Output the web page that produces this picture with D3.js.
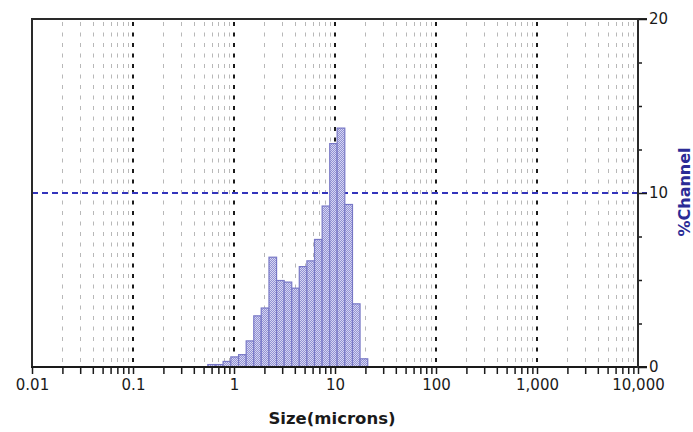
<!DOCTYPE html>
<html>
<head>
<meta charset="utf-8">
<script src="https://cdn.jsdelivr.net/npm/d3@7"></script>
<style>
  html, body { margin: 0; padding: 0; background: #ffffff; }
  svg { display: block; }
  text { font-family: "DejaVu Sans", sans-serif; }
</style>
</head>
<body>
<div id="chart"></div>
<script>
// ---- data ----
const binEdges = [0.55, 0.66, 0.78, 0.93, 1.11, 1.32, 1.57, 1.86, 2.22, 2.64, 3.14, 3.73, 4.43, 5.27, 6.27, 7.46, 8.87, 10.5, 12.5, 14.9, 17.7, 21.1];
const channelPct = [0.14, 0.14, 0.32, 0.58, 0.71, 1.50, 2.94, 3.39, 6.31, 4.97, 4.88, 4.53, 5.77, 6.10, 7.33, 9.25, 12.84, 13.73, 9.34, 3.63, 0.47];
const xDecades = [0.01, 0.1, 1, 10, 100, 1000, 10000];
const xDecadeLabels = ["0.01", "0.1", "1", "10", "100", "1,000", "10,000"];
const yMajorTicks = [0, 10, 20];
const yMajorLabels = ["0", "10", "20"];
const yMinorTicks = [2.5, 5, 7.5, 12.5, 15, 17.5];
const refLineValue = 10;
const xTitle = "Size(microns)";
const yTitle = "%Channel";

const W = 693, H = 432;
const plot = { left: 32, right: 638, top: 19, bottom: 367 };

const svg = d3.select("#chart").append("svg").attr("width", W).attr("height", H);

const x = d3.scaleLog().domain([0.01, 10000]).range([plot.left, plot.right]);
const y = d3.scaleLinear().domain([0, 20]).range([plot.bottom, plot.top]);

// pattern for bar fill
const defs = svg.append("defs");
const pat = defs.append("pattern").attr("id", "dots").attr("patternUnits", "userSpaceOnUse")
  .attr("width", 2).attr("height", 2);
pat.append("rect").attr("width", 2).attr("height", 2).attr("fill", "#9292d4");
pat.append("rect").attr("x", 0).attr("y", 0).attr("width", 1).attr("height", 1).attr("fill", "#d6d6f2");
pat.append("rect").attr("x", 1).attr("y", 1).attr("width", 1).attr("height", 1).attr("fill", "#d6d6f2");

// minor ticks/grid values
const minorVals = [];
xDecades.slice(0, -1).forEach(d => { for (let k = 2; k <= 9; k++) minorVals.push(d * k); });
const allTicks = xDecades.concat(minorVals).sort((a, b) => a - b);

// vertical grid
const grid = svg.append("g");
grid.selectAll("line.minor").data(minorVals).enter().append("line")
  .attr("x1", d => Math.round(x(d)) + 0.5).attr("x2", d => Math.round(x(d)) + 0.5)
  .attr("y1", plot.top + 3).attr("y2", plot.bottom)
  .attr("stroke", "#b8b8b8").attr("stroke-width", 1).attr("stroke-dasharray", "4,6.5");
grid.selectAll("line.major").data(xDecades.slice(1, -1)).enter().append("line")
  .attr("x1", d => Math.round(x(d))).attr("x2", d => Math.round(x(d)))
  .attr("y1", plot.top + 3).attr("y2", plot.bottom)
  .attr("stroke", "#1a1a1a").attr("stroke-width", 2).attr("stroke-dasharray", "4,6.5");

// reference line at 10
svg.append("line")
  .attr("x1", plot.left).attr("x2", plot.right + 9)
  .attr("y1", y(refLineValue)).attr("y2", y(refLineValue))
  .attr("stroke", "#3434bc").attr("stroke-width", 2).attr("stroke-dasharray", "6,4");

// bars
const bars = channelPct.map((v, i) => ({ x0: binEdges[i], x1: binEdges[i + 1], v }));
svg.append("g").selectAll("rect").data(bars).enter().append("rect")
  .attr("x", d => x(d.x0))
  .attr("width", d => x(d.x1) - x(d.x0))
  .attr("y", d => y(d.v))
  .attr("height", d => y(0) - y(d.v))
  .attr("fill", "url(#dots)")
  .attr("stroke", "#7878c6").attr("stroke-width", 1.2);

// frame
svg.append("line").attr("x1", plot.left).attr("x2", plot.left).attr("y1", plot.top).attr("y2", plot.bottom)
  .attr("stroke", "#2a2a2a").attr("stroke-width", 2);
svg.append("line").attr("x1", plot.left - 1).attr("x2", plot.right + 9).attr("y1", plot.top).attr("y2", plot.top)
  .attr("stroke", "#2a2a2a").attr("stroke-width", 2);

// bottom axis
const xAxis = d3.axisBottom(x).tickValues(allTicks).tickSize(7).tickPadding(5)
  .tickFormat(d => { const i = xDecades.findIndex(v => Math.abs(v - d) / d < 1e-9); return i >= 0 ? xDecadeLabels[i] : ""; });
const gx = svg.append("g").attr("transform", `translate(0,${plot.bottom})`).call(xAxis);
gx.select(".domain").remove();
gx.selectAll(".tick line").attr("stroke", "#1a1a1a").attr("stroke-width", 1.5);
gx.selectAll(".tick text").attr("font-size", 15).attr("fill", "#1a1a1a").attr("font-family", "DejaVu Sans");
svg.append("line").attr("x1", plot.left - 1).attr("x2", plot.right + 9).attr("y1", plot.bottom).attr("y2", plot.bottom)
  .attr("stroke", "#1a1a1a").attr("stroke-width", 2);

// right axis
const gyMinor = svg.append("g").attr("transform", `translate(${plot.right},0)`)
  .call(d3.axisRight(y).tickValues(yMinorTicks).tickSize(4).tickFormat(""));
gyMinor.select(".domain").remove();
gyMinor.selectAll(".tick line").attr("stroke", "#1a1a1a").attr("stroke-width", 1.5);
const gyMajor = svg.append("g").attr("transform", `translate(${plot.right},0)`)
  .call(d3.axisRight(y).tickValues(yMajorTicks).tickSize(9).tickPadding(2)
    .tickFormat((d, i) => yMajorLabels[i]));
gyMajor.select(".domain").remove();
gyMajor.selectAll(".tick line").attr("stroke", "#1a1a1a").attr("stroke-width", 1.5);
gyMajor.selectAll(".tick text").attr("font-size", 15).attr("fill", "#1a1a1a").attr("font-family", "DejaVu Sans");
svg.append("line").attr("x1", plot.right).attr("x2", plot.right).attr("y1", plot.top).attr("y2", plot.bottom + 1)
  .attr("stroke", "#2a2a2a").attr("stroke-width", 2);

// titles
svg.append("text").attr("x", 332).attr("y", 424).attr("text-anchor", "middle")
  .attr("font-size", 16.5).attr("font-weight", "bold").attr("fill", "#1a1a1a").text(xTitle);
svg.append("text").attr("transform", "translate(690,192) rotate(-90)").attr("text-anchor", "middle")
  .attr("font-size", 16).attr("font-weight", "bold").attr("fill", "#2b2b96").text(yTitle);
</script>
</body>
</html>
